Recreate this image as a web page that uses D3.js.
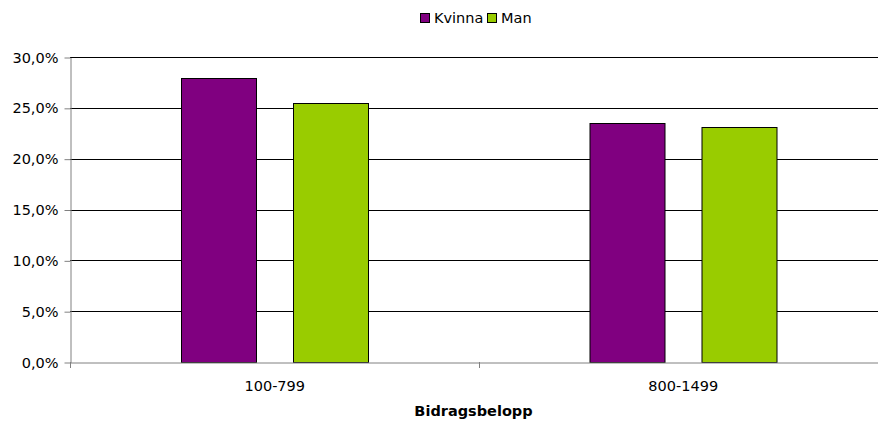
<!DOCTYPE html>
<html>
<head>
<meta charset="utf-8">
<script src="https://cdn.jsdelivr.net/npm/d3@7"></script>
<style>
  body { margin: 0; background: #fff; overflow: hidden; }
  svg { display: block; font-family: "DejaVu Sans", Verdana, sans-serif; }
</style>
</head>
<body>
<svg id="chart"></svg>
<script>
const categories = ['100-799', '800-1499'];
const seriesNames = ['Kvinna', 'Man'];
const kvinna = [27.9, 23.5];
const man = [25.5, 23.15];
const yTicks = [0, 5, 10, 15, 20, 25, 30];
const colors = ['#800080', '#99cc00'];

const width = 878, height = 421;
const margin = { top: 57, right: -9, bottom: 59, left: 70 };

const svg = d3.select('#chart')
  .attr('width', width)
  .attr('height', height);

const x = d3.scaleBand()
  .domain(categories)
  .range([margin.left, width - margin.right])
  .paddingInner(0)
  .paddingOuter(0);

const x1 = d3.scaleBand()
  .domain(seriesNames)
  .range([0, x.bandwidth()])
  .paddingInner(0.33)
  .paddingOuter(0.99);

const y = d3.scaleLinear()
  .domain([0, 30])
  .range([height - margin.bottom, margin.top]);

const fmt = v => d3.format('.1f')(v).replace('.', ',') + '%';

// gridlines
svg.append('g')
  .selectAll('line')
  .data(yTicks.filter(d => d > 0))
  .join('line')
  .attr('x1', margin.left)
  .attr('x2', width - margin.right)
  .attr('y1', d => Math.round(y(d)) + 0.5)
  .attr('y2', d => Math.round(y(d)) + 0.5)
  .attr('stroke', '#000')
  .attr('stroke-width', 1);

// y axis
const yAxis = g => g
  .attr('transform', `translate(${margin.left + 0.5},0.5)`)
  .call(d3.axisLeft(y).tickValues(yTicks).tickFormat(fmt).tickSize(6).tickSizeOuter(0))
  .call(g => g.select('.domain').attr('stroke', '#808080'))
  .call(g => g.selectAll('.tick line').attr('stroke', '#808080'))
  .call(g => g.selectAll('.tick text')
    .attr('x', -12)
    .attr('font-size', 14.5)
    .attr('font-family', '"DejaVu Sans", Verdana, sans-serif')
    .attr('fill', '#000'));

const rows = categories.map((c, i) => ({ cat: c, values: [kvinna[i], man[i]] }));

// bars
svg.append('g')
  .selectAll('g')
  .data(rows)
  .join('g')
  .attr('transform', d => `translate(${x(d.cat)},0)`)
  .selectAll('rect')
  .data(d => d.values.map((v, j) => ({ key: seriesNames[j], value: v, color: colors[j] })))
  .join('rect')
  .attr('x', d => Math.round(x1(d.key)) + 0.5)
  .attr('y', d => Math.round(y(d.value)) + 0.5)
  .attr('width', Math.round(x1.bandwidth()))
  .attr('height', d => Math.round(y(0)) - Math.round(y(d.value)))
  .attr('fill', d => d.color)
  .attr('stroke', '#000')
  .attr('stroke-width', 1);

svg.append('g').call(yAxis);

// x axis
const xAxis = g => g
  .attr('transform', `translate(0.5,${Math.round(y(0)) + 0.5})`)
  .call(d3.axisBottom(x).tickSize(0).tickSizeOuter(0))
  .call(g => g.select('.domain').attr('stroke', '#808080'))
  .call(g => g.selectAll('.tick text')
    .attr('y', 18)
    .attr('font-size', 14.5)
    .attr('font-family', '"DejaVu Sans", Verdana, sans-serif')
    .attr('fill', '#000'));

svg.append('g').call(xAxis);

// category separator ticks
svg.append('g')
  .selectAll('line')
  .data(categories)
  .join('line')
  .attr('x1', d => Math.round(x(d)) + 0.5)
  .attr('x2', d => Math.round(x(d)) + 0.5)
  .attr('y1', Math.round(y(0)))
  .attr('y2', Math.round(y(0)) + 6)
  .attr('stroke', '#808080');

// axis title
svg.append('text')
  .attr('x', (margin.left + width - margin.right) / 2 - 5)
  .attr('y', 416)
  .attr('text-anchor', 'middle')
  .attr('font-size', 14.5)
  .attr('font-weight', 'bold')
  .text('Bidragsbelopp');

// legend
const legend = svg.append('g')
  .attr('transform', 'translate(420,13)')
  .selectAll('g')
  .data(seriesNames)
  .join('g')
  .attr('transform', (d, i) => `translate(${i * 67},0)`);

legend.append('rect')
  .attr('x', 0.5)
  .attr('y', 0.5)
  .attr('width', 9)
  .attr('height', 9)
  .attr('fill', (d, i) => colors[i])
  .attr('stroke', '#000');

legend.append('text')
  .attr('x', 14)
  .attr('y', 10)
  .attr('font-size', 14.5)
  .text(d => d);
</script>
</body>
</html>
